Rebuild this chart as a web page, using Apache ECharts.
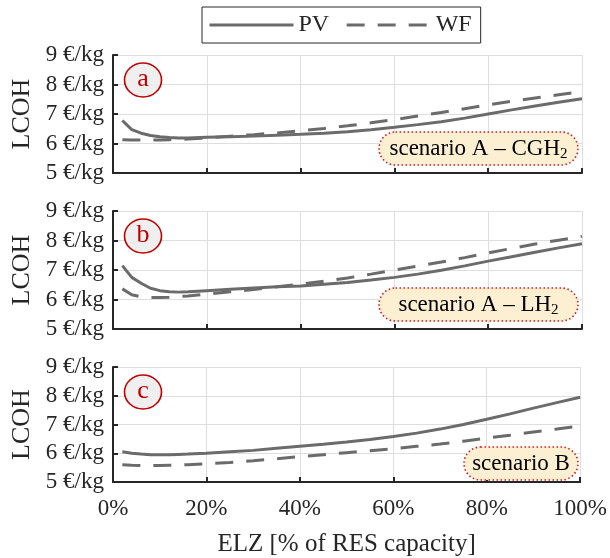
<!DOCTYPE html>
<html>
<head>
<meta charset="utf-8">
<script src="https://cdn.jsdelivr.net/npm/echarts@6/dist/echarts.min.js"></script>
<style>
  html, body { margin: 0; padding: 0; background: #ffffff; }
  #chart { width: 610px; height: 558px; }
</style>
</head>
<body>
<div id="chart"></div>
<script>
// Electrolyser size as a share of renewable capacity (%)
const elzShare = [2, 4, 6, 8, 10, 12, 14, 16, 20, 25, 30, 35, 40, 45, 50, 55, 60, 65, 70, 75, 80, 85, 90, 95, 100];

// LCOH in €/kg — scenario A, compressed hydrogen
const pvA = [6.78, 6.47, 6.35, 6.27, 6.23, 6.20, 6.19, 6.19, 6.21, 6.23, 6.25, 6.28, 6.31, 6.35, 6.40, 6.47, 6.55, 6.64, 6.74, 6.86, 7.00, 7.14, 7.27, 7.40, 7.52];
const wfA = [6.13, 6.12, 6.12, 6.12, 6.12, 6.13, 6.14, 6.15, 6.19, 6.25, 6.30, 6.36, 6.43, 6.51, 6.60, 6.70, 6.81, 6.93, 7.05, 7.18, 7.31, 7.43, 7.54, 7.65, 7.76];

// LCOH in €/kg — scenario A, liquid hydrogen
const pvB = [7.15, 6.75, 6.55, 6.38, 6.30, 6.26, 6.25, 6.26, 6.30, 6.35, 6.39, 6.43, 6.46, 6.52, 6.58, 6.66, 6.75, 6.86, 6.99, 7.14, 7.30, 7.45, 7.60, 7.75, 7.89];
const wfB = [6.36, 6.16, 6.09, 6.07, 6.07, 6.08, 6.10, 6.12, 6.18, 6.26, 6.34, 6.43, 6.52, 6.62, 6.73, 6.86, 7.00, 7.13, 7.27, 7.42, 7.58, 7.73, 7.88, 8.01, 8.14];

// LCOH in €/kg — scenario B
const pvC = [6.05, 6.00, 5.97, 5.95, 5.95, 5.95, 5.96, 5.97, 6.00, 6.05, 6.10, 6.17, 6.24, 6.31, 6.39, 6.48, 6.58, 6.70, 6.84, 7.00, 7.18, 7.37, 7.57, 7.76, 7.95];
const wfC = [5.60, 5.58, 5.57, 5.57, 5.57, 5.58, 5.59, 5.60, 5.63, 5.68, 5.74, 5.81, 5.88, 5.95, 6.02, 6.09, 6.16, 6.24, 6.32, 6.42, 6.53, 6.63, 6.74, 6.84, 6.95];

const seriesNames = ['PV', 'WF'];
const panelLetters = ['a', 'b', 'c'];
const panelScenarios = [
  '{t|scenario A – CGH}{s|2}',
  '{t|scenario A – LH}{s|2}',
  '{t|scenario B}'
];
const panelData = [[pvA, wfA], [pvB, wfB], [pvC, wfC]];

const yTitle = 'LCOH';
const xTitle = 'ELZ [% of RES capacity]';

// ---- layout ----
const FONT = "'Liberation Serif', 'Times New Roman', serif";
const INK = '#262626';
const LINE = '#6b6b6b';
const GRIDLINE = '#dedede';
const PLOT_LEFT = 113;
const PLOT_WIDTH = 469;
const PANEL_H = 118;
const panelTops = [55, 211, 367];
const DASH = [18, 13];

const chart = echarts.init(document.getElementById('chart'), null, { renderer: 'canvas' });

const grids = [], xAxes = [], yAxes = [], series = [], graphics = [];

panelTops.forEach((top, i) => {
  const last = i === panelTops.length - 1;
  grids.push({ left: PLOT_LEFT, top: top, width: PLOT_WIDTH, height: PANEL_H, containLabel: false });
  xAxes.push({
    gridIndex: i, type: 'value', min: 0, max: 100, interval: 20,
    axisLine: { show: true, onZero: false, lineStyle: { color: INK, width: 2 } },
    axisTick: { show: true, inside: true, length: 5, lineStyle: { color: INK, width: 2 } },
    axisLabel: {
      show: last, formatter: '{value}%', color: INK, fontFamily: FONT, fontSize: 23, margin: 15
    },
    splitLine: { show: true, lineStyle: { color: GRIDLINE, width: 1 } },
    name: last ? xTitle : '', nameLocation: 'middle', nameGap: 50,
    nameTextStyle: { color: INK, fontFamily: FONT, fontSize: 25 }
  });
  yAxes.push({
    gridIndex: i, type: 'value', min: 5, max: 9, interval: 1,
    axisLine: { show: true, onZero: false, lineStyle: { color: INK, width: 2 } },
    axisTick: { show: true, inside: true, length: 5, lineStyle: { color: INK, width: 2 } },
    axisLabel: { formatter: '{value} €/kg', color: INK, fontFamily: FONT, fontSize: 23, margin: 9 },
    splitLine: { show: true, lineStyle: { color: GRIDLINE, width: 1 } },
    name: yTitle, nameLocation: 'middle', nameGap: 78, nameRotate: 90,
    nameTextStyle: { color: INK, fontFamily: FONT, fontSize: 26 }
  });

  panelData[i].forEach((vals, k) => {
    series.push({
      name: seriesNames[k], type: 'line', xAxisIndex: i, yAxisIndex: i,
      data: elzShare.map((x, j) => [x, vals[j]]),
      symbol: 'none', smooth: false, silent: true,
      lineStyle: { color: LINE, width: 3, type: k === 0 ? 'solid' : DASH, cap: 'butt' },
      itemStyle: { color: LINE },
      z: k === 0 ? 3 : 2
    });
  });

  // panel letter badge
  graphics.push(
    { type: 'ellipse', z: 10, shape: { cx: 143, cy: top + 25, rx: 18.5, ry: 17 },
      style: { fill: '#efefef', stroke: '#c00000', lineWidth: 1.6 } },
    { type: 'text', z: 11, style: { x: 143, y: top + 24, text: panelLetters[i], align: 'center', verticalAlign: 'middle',
      fill: '#c00000', font: '26px ' + FONT } }
  );

  // scenario tag
  const bx = last ? 464 : 379, bw = 578 - bx;
  const by = top + (last ? 80 : 77), bh = 33;
  graphics.push(
    { type: 'rect', z: 10, shape: { x: bx, y: by, width: bw, height: bh, r: bh / 2 },
      style: { fill: '#fdf0d2', stroke: '#d81818', lineWidth: 1.6, lineDash: [1.5, 2.5] } },
    { type: 'text', z: 11, style: {
        x: bx + bw / 2, y: by + bh / 2, text: panelScenarios[i], align: 'center', verticalAlign: 'middle',
        rich: {
          t: { fontFamily: FONT, fontSize: 23, color: INK, lineHeight: 26 },
          s: { fontFamily: FONT, fontSize: 15, color: INK, lineHeight: 14, verticalAlign: 'bottom' }
        }
      } }
  );
});

chart.setOption({
  animation: false,
  backgroundColor: '#ffffff',
  legend: {
    data: seriesNames, left: 202, top: 7,
    orient: 'horizontal', itemWidth: 84, itemHeight: 2, itemGap: 16,
    padding: [5, 9, 5, 6], borderColor: INK, borderWidth: 1, backgroundColor: '#ffffff',
    itemStyle: { opacity: 0 },
    lineStyle: { width: 3, color: LINE },
    textStyle: { color: INK, fontFamily: FONT, fontSize: 24, lineHeight: 26 },
    selectedMode: false
  },
  grid: grids,
  xAxis: xAxes,
  yAxis: yAxes,
  series: series,
  graphic: graphics
});
</script>
</body>
</html>
